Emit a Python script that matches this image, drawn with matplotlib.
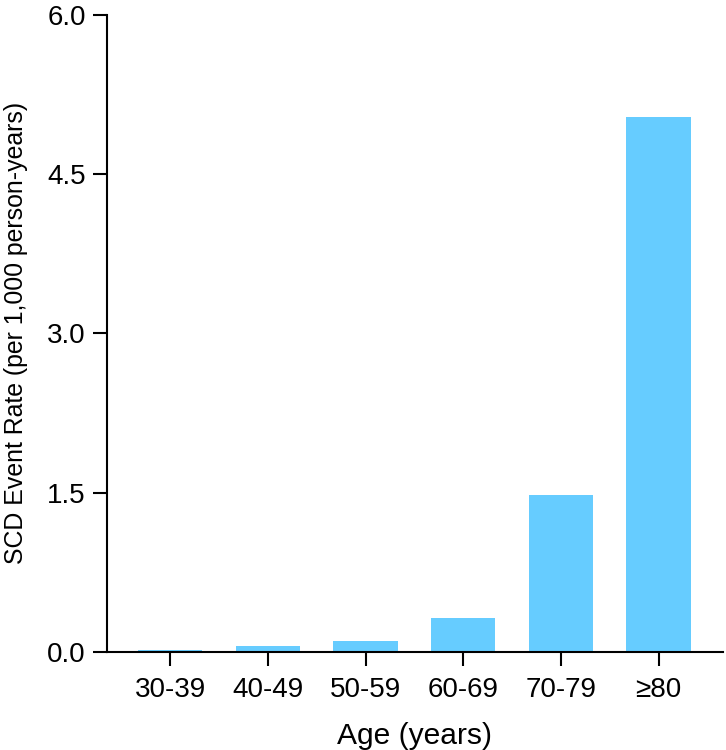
import matplotlib.pyplot as plt

plt.rcParams['font.family'] = ['Liberation Sans', 'DejaVu Sans']

age_groups = ['30-39', '40-49', '50-59', '60-69', '70-79', '\u226580']
event_rate = [0.016, 0.05, 0.10, 0.32, 1.48, 5.04]
y_ticks = [0.0, 1.5, 3.0, 4.5, 6.0]

fig = plt.figure(figsize=(7.26, 7.5), dpi=100)
ax = fig.add_axes([0.147, 0.131, 0.849, 0.849])

ax.bar(range(len(age_groups)), event_rate, width=0.66, color='#66CCFF')

ax.set_xlim(-0.65, 5.66)
ax.set_ylim(0, 6.0)
ax.set_yticks(y_ticks)
ax.set_yticklabels(['%.1f' % t for t in y_ticks])
ax.set_xticks(range(len(age_groups)))
ax.set_xticklabels(age_groups)

for side in ['top', 'right']:
    ax.spines[side].set_visible(False)
for side in ['left', 'bottom']:
    ax.spines[side].set_linewidth(1.5)
ax.tick_params(axis='both', width=1.5, length=10, labelsize=20, pad=5)
ax.tick_params(axis='x', pad=8)

ax.set_xlabel('Age (years)', fontsize=21.6, labelpad=14)
ax.set_ylabel('SCD Event Rate (per 1,000 person-years)', fontsize=17.9, labelpad=14)

fig.savefig('out.png', dpi=100)
